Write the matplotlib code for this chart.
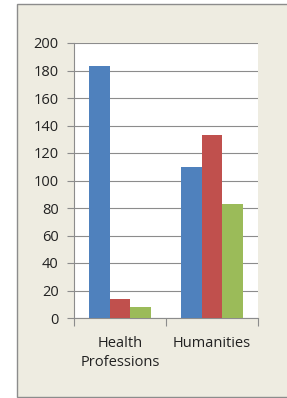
import matplotlib
matplotlib.use("Agg")
import matplotlib.pyplot as plt
from matplotlib.patches import Rectangle
import numpy as np

categories = ["Health\nProfessions", "Humanities"]
series1 = [183, 110]
series2 = [14, 133]
series3 = [8, 83]
colors = ["#4F81BD", "#C0504D", "#9BBB59"]
yticks = [0, 20, 40, 60, 80, 100, 120, 140, 160, 180, 200]

W, H = 287, 398
fig = plt.figure(figsize=(W/100, H/100), dpi=100)
fig.patch.set_facecolor("white")
# outer chart frame
fig.patches.append(Rectangle((17/W, 1-397/H), (W+5-17)/W, (397-4)/H,
                             transform=fig.transFigure, facecolor="#EEECE1",
                             edgecolor="#8C8C8C", linewidth=1.0, zorder=-10))

ax = fig.add_axes([74/W, 1-318/H, (258-74)/W, (318-43)/H])
ax.set_zorder(5)
ax.set_facecolor("white")
x = np.arange(len(categories))
bw = 0.2255
for i, (vals, c) in enumerate(zip([series1, series2, series3], colors)):
    ax.bar(x + (i-1)*bw, vals, width=bw, color=c, zorder=3)

ax.set_xlim(-0.5, 1.5)
ax.set_ylim(0, 200)
ax.set_yticks(yticks)
ax.yaxis.grid(True, color="#8C8C8C", linewidth=0.8, zorder=0)
for s in ["top", "right"]:
    ax.spines[s].set_visible(False)
ax.spines["left"].set_color("#8C8C8C")
ax.spines["bottom"].set_color("#8C8C8C")
ax.tick_params(axis="y", length=5, color="#8C8C8C", labelsize=10.5, pad=6, labelcolor="#222222")
ax.set_xticks([-0.5, 0.5, 1.5], minor=False)
ax.set_xticklabels([])
ax.tick_params(axis="x", which="major", length=6, color="#8C8C8C", direction="out")
ax.set_xticks(x, minor=True)
ax.set_xticklabels(categories, minor=True, fontsize=10.5, color="#222222", linespacing=1.4)
ax.tick_params(axis="x", which="minor", length=0, pad=13)
for lbl in ax.get_yticklabels() + ax.get_xticklabels(minor=True):
    lbl.set_fontfamily(["Open Sans", "DejaVu Sans"])

fig.savefig("out.png", dpi=100, facecolor=fig.get_facecolor())
